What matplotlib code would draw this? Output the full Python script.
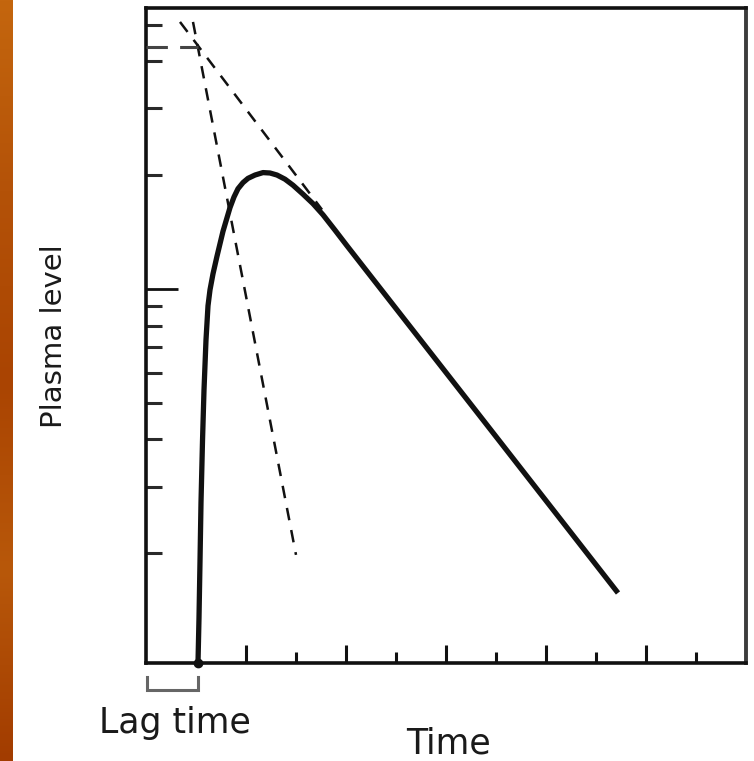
import numpy as np
import matplotlib
matplotlib.use("Agg")
import matplotlib.pyplot as plt
from matplotlib.colors import LinearSegmentedColormap
import matplotlib.transforms as mtransforms

# Plasma concentration curve after oral dosing (log scale)
curve_time = [1.04, 1.06, 1.08, 1.10, 1.13, 1.16, 1.20, 1.24, 1.28, 1.34,
              1.42, 1.54, 1.68, 1.76, 1.84, 1.94, 2.04, 2.18, 2.34, 2.48,
              2.62, 2.78, 2.94, 3.14, 3.34, 3.54, 3.78, 4.02, 6.68, 9.44]
curve_level = [1.025, 1.35, 1.90, 2.72, 3.96, 5.40, 7.33, 9.02, 9.94, 10.96,
               12.2, 14.2, 16.4, 17.5, 18.4, 19.1, 19.6, 20.0, 20.3, 20.25,
               20.0, 19.5, 18.8, 17.8, 16.8, 15.7, 14.3, 13.0, 4.61, 1.57]

# Back-extrapolated elimination line and residual (absorption) line
elim_time = [0.68, 3.52]
elim_level = [50.8, 16.2]
resid_time = [0.94, 3.0]
resid_level = [50.8, 1.98]

# Intercept level at the lag time
lag_time = 1.04
intercept_level = 43.7

x_major = [2, 4, 6, 8, 10]
x_minor = [3, 5, 7, 9, 11]
y_major = [10]
y_minor = [2, 3, 4, 5, 6, 7, 8, 9, 20, 30, 40, 50]

W, H, DPI = 754, 761, 100
fig = plt.figure(figsize=(W / DPI, H / DPI), dpi=DPI, facecolor="white")

# Decorative orange strip on the left edge
strip = fig.add_axes([0, 0, 13 / W, 1])
strip.set_axis_off()
grad = np.linspace(0, 1, 256).reshape(-1, 1)
cmap = LinearSegmentedColormap.from_list(
    "strip", ["#c4660e", "#b45208", "#aa4402", "#b8580a", "#a23c00"])
strip.imshow(grad, aspect="auto", cmap=cmap, extent=[0, 1, 0, 1], origin="upper")

ax = fig.add_axes([146 / W, 1 - 663 / H, 600 / W, 655 / H])
ax.set_yscale("log")
ax.set_xlim(0, 12)
ax.set_ylim(1.025, 55.3)

ink = "#111111"
ax.plot(curve_time, curve_level, color=ink, lw=3.8, solid_capstyle="butt",
        solid_joinstyle="round", clip_on=False, zorder=4)
ax.plot(curve_time[:1], curve_level[:1], "o", color=ink, ms=6, clip_on=False, zorder=5)

dash = (0, (5, 4))
ax.plot(elim_time, elim_level, color=ink, lw=1.8, linestyle=dash, zorder=3)
ax.plot(resid_time, resid_level, color=ink, lw=1.8, linestyle=dash, zorder=3)
ax.plot([0, lag_time], [intercept_level, intercept_level], color="#444444",
        lw=2.2, linestyle=(0, (7, 4)), zorder=3, clip_on=False)

for side in ["left", "bottom", "top"]:
    ax.spines[side].set_linewidth(2.6)
    ax.spines[side].set_color(ink)
ax.spines["right"].set_linewidth(2.8)
ax.spines["right"].set_color("#3c3c3c")

ax.xaxis.set_major_locator(matplotlib.ticker.FixedLocator(x_major))
ax.xaxis.set_minor_locator(matplotlib.ticker.FixedLocator(x_minor))
ax.yaxis.set_major_locator(matplotlib.ticker.FixedLocator(y_major))
ax.yaxis.set_minor_locator(matplotlib.ticker.FixedLocator(y_minor))
ax.xaxis.set_major_formatter(matplotlib.ticker.NullFormatter())
ax.xaxis.set_minor_formatter(matplotlib.ticker.NullFormatter())
ax.yaxis.set_major_formatter(matplotlib.ticker.NullFormatter())
ax.yaxis.set_minor_formatter(matplotlib.ticker.NullFormatter())
ax.tick_params(axis="x", which="major", direction="in", length=13, width=2.2,
               color=ink, top=False)
ax.tick_params(axis="x", which="minor", direction="in", length=8, width=2.2,
               color=ink, top=False)
ax.tick_params(axis="y", which="major", direction="in", length=23, width=2.0,
               color=ink, right=False)
ax.tick_params(axis="y", which="minor", direction="in", length=11.5, width=2.2,
               color="#2a2a2a", right=False)

# Bracket marking the lag time under the axis
trans = mtransforms.blended_transform_factory(ax.transData, ax.transAxes)
ax.plot([0.02, 0.02, lag_time, lag_time], [-0.0214, -0.0412, -0.0412, -0.0214],
        color="#666666", lw=2.2, transform=trans, clip_on=False,
        solid_joinstyle="miter")

txt = "#1a1a1a"
fig.text(175 / W, 1 - 733 / H, "Lag time", fontsize=25, color=txt,
         ha="center", va="baseline")
fig.text(449 / W, 1 - 753 / H, "Time", fontsize=25, color=txt,
         ha="center", va="baseline")
fig.text(54 / W, 1 - 336 / H, "Plasma level", fontsize=21, color=txt,
         ha="center", va="center", rotation=90)

fig.savefig("out.png", dpi=DPI, facecolor="white")
